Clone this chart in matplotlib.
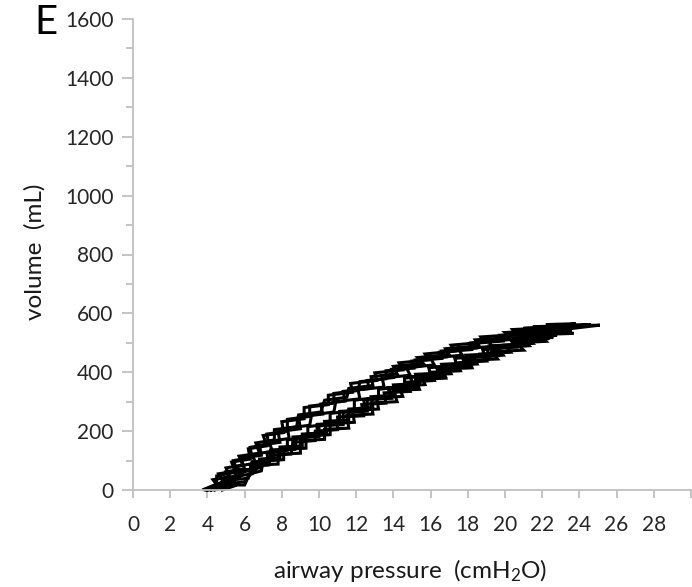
import matplotlib as mpl
mpl.use('Agg')
import matplotlib.pyplot as plt
from matplotlib.ticker import MultipleLocator

plt.rcParams['font.family'] = ['Lato', 'DejaVu Sans']
plt.rcParams['mathtext.fontset'] = 'custom'
plt.rcParams['mathtext.rm'] = 'Lato'
plt.rcParams['mathtext.it'] = 'Lato'

# breath 1 (outer loop): pressure (cmH2O), volume (mL)
p_breath1 = [4.0, 4.6, 4.3, 5.2, 5.0, 5.9, 5.7, 6.8, 6.6, 7.6, 7.6, 8.8, 8.9, 10.1, 10.3, 11.5,
             11.6, 12.9, 12.8, 14.2, 14.0, 15.6, 15.3, 17.0, 16.8, 18.6, 18.4, 20.3, 20.0, 22.0,
             21.5, 25.1,
             23.5, 22.0, 23.7, 21.8, 22.2, 20.6, 21.0, 19.3, 19.6, 17.9, 18.2, 16.5, 16.8, 15.2,
             15.4, 14.0, 14.2, 12.8, 12.9, 11.5, 11.6, 10.3, 10.3, 9.0, 9.0, 7.8, 7.8, 6.8, 6.2,
             6.0, 5.0, 4.6, 4.0]
v_breath1 = [0, 10, 35, 45, 75, 85, 115, 125, 160, 170, 205, 215, 255, 265, 305, 315,
             345, 355, 385, 395, 420, 430, 450, 460, 480, 490, 510, 518, 535, 542,
             555, 560,
             548, 545, 532, 528, 505, 500, 475, 470, 445, 440, 415, 410, 380, 375,
             342, 338, 300, 296, 258, 254, 210, 206, 172, 168, 125, 122, 88, 85, 45,
             17, 17, 5, 0]

# breath 2
p_breath2 = [4.4, 5.0, 4.8, 5.8, 5.6, 6.6, 6.4, 7.5, 7.3, 8.4, 8.3, 9.5, 9.6, 10.8, 10.9, 12.2,
             12.1, 13.5, 13.4, 14.9, 14.7, 16.2, 16.0, 17.7, 17.5, 19.3, 19.1, 21.0, 20.8, 22.8,
             22.4, 24.2,
             22.6, 21.4, 22.8, 21.2, 21.5, 20.0, 20.3, 18.7, 19.0, 17.4, 17.6, 16.0, 16.2, 14.7,
             14.9, 13.5, 13.6, 12.3, 12.4, 11.0, 11.0, 9.8, 9.8, 8.6, 8.5, 7.4, 7.3, 6.4, 6.3,
             6.2, 5.4, 5.0, 4.4]
v_breath2 = [0, 12, 40, 50, 80, 92, 120, 132, 165, 175, 210, 220, 255, 265, 300, 310,
             340, 350, 380, 390, 415, 425, 448, 458, 478, 488, 508, 516, 532, 540,
             552, 557,
             546, 540, 525, 520, 498, 492, 468, 462, 438, 432, 405, 400, 372, 366,
             335, 330, 295, 290, 252, 248, 205, 200, 168, 162, 122, 118, 85, 80, 60,
             40, 35, 15, 2]

# breath 3
p_breath3 = [3.8, 4.5, 4.5, 5.5, 5.3, 6.3, 6.2, 7.2, 7.0, 8.1, 8.0, 9.2, 9.2, 10.5, 10.5, 11.8,
             11.7, 13.1, 13.0, 14.5, 14.3, 15.9, 15.7, 17.3, 17.1, 18.9, 18.7, 20.6, 20.4, 22.6,
             22.2, 23.8,
             22.9, 21.0, 22.3, 20.4, 21.8, 20.3, 20.6, 19.0, 19.2, 17.7, 17.9, 16.3, 16.5, 14.9,
             15.1, 13.7, 13.9, 12.6, 12.6, 11.3, 11.3, 10.0, 10.0, 8.8, 8.7, 7.6, 7.5, 6.5, 6.6,
             5.8, 5.5, 4.8, 4.3, 3.9]
v_breath3 = [2, 20, 48, 60, 95, 105, 140, 150, 185, 195, 232, 242, 280, 290, 322, 332,
             362, 372, 398, 408, 432, 442, 462, 472, 492, 502, 520, 528, 545, 552,
             562, 565,
             556, 550, 540, 535, 515, 510, 485, 480, 455, 450, 422, 418, 390, 385,
             352, 348, 312, 308, 268, 264, 222, 218, 182, 178, 138, 134, 100, 96, 70,
             60, 35, 28, 10, 0]

# breath 4
p_breath4 = [4.2, 4.9, 4.6, 5.6, 5.4, 6.4, 6.3, 7.3, 7.2, 8.3, 8.3, 9.5, 9.5, 10.8, 10.8, 12.1,
             12.2, 13.6, 13.6, 15.1, 15.0, 16.6, 16.5, 18.2, 18.1, 19.9, 19.8, 21.7, 21.5, 23.4,
             23.0, 24.6,
             23.0, 21.6, 23.2, 21.5, 22.6, 21.0, 21.3, 19.6, 19.9, 18.3, 18.5, 16.9, 17.1, 15.5,
             15.7, 14.3, 14.5, 13.1, 13.2, 11.8, 11.9, 10.6, 10.6, 9.3, 9.3, 8.1, 8.1, 7.0, 6.9,
             6.3, 6.0, 5.2, 4.7, 4.2]
v_breath4 = [0, 22, 55, 66, 100, 110, 145, 155, 190, 200, 240, 250, 285, 295, 328, 338,
             368, 378, 405, 414, 438, 447, 468, 477, 497, 506, 523, 531, 548, 553,
             560, 562,
             552, 548, 538, 534, 518, 514, 490, 485, 458, 453, 428, 423, 395, 390,
             358, 353, 318, 313, 275, 270, 230, 225, 188, 183, 142, 138, 103, 98, 65,
             55, 28, 22, 8, 0]

# breath 5
p_breath5 = [4.6, 5.3, 5.0, 6.0, 5.8, 6.9, 6.8, 7.9, 7.8, 9.0, 8.9, 10.2, 10.1, 11.4, 11.3, 12.7,
             12.6, 14.0, 13.9, 15.4, 15.2, 16.8, 16.6, 18.4, 18.2, 20.1, 19.8, 21.9, 21.6, 23.2,
             21.8, 20.6, 22.0, 20.4, 20.8, 19.2, 19.5, 17.9, 18.2, 16.6, 16.8, 15.2, 15.4, 14.0,
             14.1, 12.8, 12.9, 11.6, 11.6, 10.3, 10.4, 9.1, 9.1, 7.9, 7.9, 6.8, 6.8, 6.0, 5.7,
             5.0, 4.6, 4.1]
v_breath5 = [5, 28, 62, 72, 108, 118, 152, 162, 198, 208, 248, 258, 292, 302, 335, 345,
             372, 382, 410, 420, 442, 452, 472, 482, 500, 510, 526, 534, 545, 550,
             540, 536, 522, 517, 495, 490, 463, 458, 432, 427, 398, 393, 362, 357,
             322, 317, 280, 275, 238, 233, 195, 190, 150, 146, 110, 105, 75, 68, 42,
             38, 18, 4]

# breath 6 (runs through the middle of the band)
p_breath6 = [4.8, 5.5, 5.4, 6.4, 6.3, 7.3, 7.2, 8.3, 8.3, 9.4, 9.4, 10.6, 10.6, 11.9, 11.9, 13.2,
             13.2, 14.6, 14.6, 16.0, 15.9, 17.4, 17.3, 18.9, 18.8, 20.5, 20.4, 22.2, 22.0, 23.6,
             21.2, 22.4, 20.6, 21.0, 19.3, 19.6, 18.0, 18.2, 16.6, 16.8, 15.2, 15.3, 13.8, 13.9,
             12.4, 12.5, 11.1, 11.1, 9.9, 9.9, 8.6, 8.6, 7.4, 7.4, 6.4, 6.3, 5.6, 5.3, 4.8]
v_breath6 = [0, 15, 45, 55, 85, 95, 125, 135, 170, 180, 215, 225, 260, 270, 305, 315,
             342, 352, 380, 390, 415, 425, 447, 457, 477, 487, 505, 513, 530, 538,
             528, 515, 510, 490, 484, 456, 450, 420, 414, 385, 380, 350, 345, 312,
             307, 272, 267, 228, 223, 185, 180, 140, 136, 100, 96, 70, 62, 30, 18]

x_ticks = list(range(0, 32, 2))
x_labels = [str(t) for t in x_ticks[:-1]] + ['']

fig = plt.figure(figsize=(6.92, 5.87), dpi=100)
ax = fig.add_axes([133 / 692, 1 - 490 / 587, (691 - 133) / 692, (490 - 19) / 587])

breaths = [(p_breath1, v_breath1), (p_breath2, v_breath2), (p_breath3, v_breath3),
           (p_breath4, v_breath4), (p_breath5, v_breath5), (p_breath6, v_breath6)]
for p, v in breaths:
    ax.plot(p, v, color='black', lw=2.2, clip_on=False, solid_joinstyle='miter')

ax.set_xlim(0, 30)
ax.set_ylim(0, 1600)
ax.set_xticks(x_ticks)
ax.set_xticklabels(x_labels)
ax.yaxis.set_major_locator(MultipleLocator(200))
ax.yaxis.set_minor_locator(MultipleLocator(100))

for s in ['top', 'right']:
    ax.spines[s].set_visible(False)
for s in ['left', 'bottom']:
    ax.spines[s].set_color('#bfbfbf')
    ax.spines[s].set_linewidth(1.3)

ax.tick_params(axis='x', which='major', length=6, width=1.3, color='#bfbfbf',
               labelsize=15, labelcolor='#262626', pad=12)
ax.tick_params(axis='y', which='major', length=8, width=1.3, color='#bfbfbf',
               labelsize=15, labelcolor='#262626', pad=6)
ax.tick_params(axis='y', which='minor', length=5, width=1.3, color='#bfbfbf')

fig.text(35 / 692, 1 - 252 / 587, 'volume  (mL)', rotation=90, ha='center', va='center',
         fontsize=17.5, color='#1a1a1a')
fig.text(410 / 692, 1 - 570 / 587, 'airway pressure  (cmH$_2$O)', ha='center', va='center',
         fontsize=17.5, color='#1a1a1a')
fig.text(46 / 692, 1 - 22 / 587, 'E', ha='center', va='center', fontsize=29, color='black')

fig.savefig('out.png', dpi=100)
